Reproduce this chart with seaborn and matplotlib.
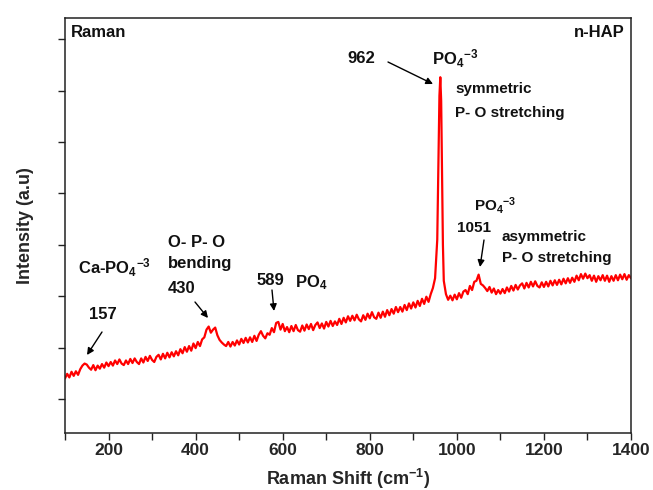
import numpy as np
import pandas as pd
import matplotlib
matplotlib.use("Agg")
import matplotlib.pyplot as plt
import seaborn as sns

# Raman shift (cm^-1) and measured intensity (counts) of the n-HAP sample
shift = [
    100, 105, 110, 115, 120, 125, 130, 135, 140, 145, 150, 155, 160, 165, 170, 175,
    180, 185, 190, 195, 200, 205, 210, 215, 220, 225, 230, 235, 240, 245, 250, 255,
    260, 265, 270, 275, 280, 285, 290, 295, 300, 305, 310, 315, 320, 325, 330, 335,
    340, 345, 350, 355, 360, 365, 370, 375, 380, 385, 390, 395, 400, 405, 410, 415,
    420, 425, 430, 435, 440, 445, 450, 455, 460, 465, 470, 475, 480, 485, 490, 495,
    500, 505, 510, 515, 520, 525, 530, 535, 540, 545, 550, 555, 560, 565, 570, 575,
    580, 585, 590, 595, 600, 605, 610, 615, 620, 625, 630, 635, 640, 645, 650, 655,
    660, 665, 670, 675, 680, 685, 690, 695, 700, 705, 710, 715, 720, 725, 730, 735,
    740, 745, 750, 755, 760, 765, 770, 775, 780, 785, 790, 795, 800, 805, 810, 815,
    820, 825, 830, 835, 840, 845, 850, 855, 860, 865, 870, 875, 880, 885, 890, 895,
    900, 905, 910, 915, 920, 925, 930, 935, 940, 945, 950, 955, 958, 960, 962, 964,
    966, 968, 970, 975, 980, 985, 990, 995, 1000, 1005, 1010, 1015, 1020, 1025, 1030,
    1035, 1040, 1045, 1050, 1055, 1060, 1065, 1070, 1075, 1080, 1085, 1090, 1095, 1100,
    1105, 1110, 1115, 1120, 1125, 1130, 1135, 1140, 1145, 1150, 1155, 1160, 1165, 1170,
    1175, 1180, 1185, 1190, 1195, 1200, 1205, 1210, 1215, 1220, 1225, 1230, 1235, 1240,
    1245, 1250, 1255, 1260, 1265, 1270, 1275, 1280, 1285, 1290, 1295, 1300, 1305, 1310,
    1315, 1320, 1325, 1330, 1335, 1340, 1345, 1350, 1355, 1360, 1365, 1370, 1375, 1380,
    1385, 1390, 1395, 1400,
]
intensity = [
    1400, 1490, 1420, 1530, 1450, 1540, 1470, 1580, 1650, 1690, 1670, 1610, 1570, 1660, 1560, 1650,
    1590, 1680, 1610, 1710, 1640, 1720, 1650, 1750, 1680, 1770, 1690, 1660, 1750, 1680, 1780, 1700,
    1790, 1720, 1680, 1790, 1710, 1820, 1740, 1840, 1760, 1720, 1820, 1860, 1770, 1880, 1790, 1900,
    1810, 1910, 1830, 1930, 1850, 1970, 1890, 2010, 1920, 2030, 1940, 2080, 1990, 2110, 2030, 2160,
    2200, 2350, 2410, 2290, 2350, 2390, 2240, 2150, 2100, 2060, 2030, 2110, 2020, 2110, 2040, 2140,
    2060, 2170, 2090, 2190, 2100, 2200, 2110, 2230, 2130, 2250, 2320, 2230, 2180, 2280, 2250, 2380,
    2300, 2480, 2500, 2350, 2460, 2320, 2400, 2300, 2420, 2320, 2440, 2340, 2310, 2430, 2330, 2450,
    2360, 2460, 2340, 2440, 2490, 2380, 2470, 2370, 2500, 2410, 2520, 2420, 2510, 2440, 2560, 2460,
    2580, 2490, 2610, 2520, 2620, 2530, 2640, 2550, 2510, 2630, 2540, 2660, 2570, 2690, 2590, 2560,
    2680, 2580, 2700, 2600, 2730, 2630, 2750, 2660, 2790, 2690, 2790, 2700, 2830, 2730, 2860, 2760,
    2880, 2780, 2910, 2810, 2950, 2850, 2990, 2890, 3040, 3160, 3350, 4100, 5800, 6900, 7260, 6800,
    5400, 4000, 3300, 3040, 2930, 3010, 2920, 3030, 2940, 3060, 2970, 3090, 3120, 3040, 3200,
    3120, 3280, 3300, 3420, 3240, 3210, 3160, 3100, 3180, 3070, 3150, 3040, 3120, 3050,
    3140, 3060, 3170, 3090, 3200, 3110, 3220, 3130, 3210, 3250, 3150, 3260, 3170, 3280,
    3190, 3290, 3200, 3170, 3270, 3180, 3280, 3190, 3300, 3210, 3310, 3220, 3320, 3230,
    3340, 3250, 3350, 3260, 3360, 3280, 3400, 3310, 3430, 3340, 3440, 3350, 3410, 3300,
    3400, 3280, 3390, 3310, 3410, 3300, 3400, 3280, 3390, 3300, 3410, 3310, 3420, 3330,
    3430, 3320, 3410, 3350,
]
x_ticks = [200, 400, 600, 800, 1000, 1200, 1400]
y_ticks = [1000, 2000, 3000, 4000, 5000, 6000, 7000, 8000]

df = pd.DataFrame({"shift": shift, "intensity": intensity})

sns.set_style("ticks")
plt.rcParams["font.family"] = ["Liberation Sans", "DejaVu Sans"]
plt.rcParams["mathtext.fontset"] = "custom"
plt.rcParams["mathtext.rm"] = "Liberation Sans:bold"
plt.rcParams["mathtext.it"] = "Liberation Sans:bold"
plt.rcParams["mathtext.bf"] = "Liberation Sans:bold"

fig = plt.figure(figsize=(6.53, 4.90), dpi=100)
ax = fig.add_axes([65 / 653, 1 - 433 / 490, 566 / 653, 415 / 490])

sns.lineplot(data=df, x="shift", y="intensity", ax=ax, color="#ff0000",
             linewidth=1.6, estimator=None, sort=False)

ax.set_xlim(100, 1400)
ax.set_ylim(339, 8412)
ax.set_xticks(x_ticks)
ax.set_xticks([100, 300, 500, 700, 900, 1100, 1300], minor=True)
ax.set_yticks(y_ticks)
ax.set_yticklabels([])
ax.tick_params(axis="both", which="both", direction="out", length=5, width=1,
               color="#222222", top=False, right=False, pad=2)
for lab in ax.get_xticklabels():
    lab.set_fontweight("bold")
    lab.set_fontsize(12.5)
for sp in ax.spines.values():
    sp.set_visible(True)
    sp.set_linewidth(1.1)
    sp.set_color("#222222")

ax.set_xlabel("Raman Shift (cm$^{-1}$)", fontsize=13, fontweight="bold")
ax.xaxis.set_label_coords(0.5, (433 - 467) / 415)
ax.set_ylabel("Intensity (a.u)", fontsize=13, fontweight="bold", labelpad=15)

big = dict(fontsize=12, fontweight="bold", color="#111111")
small = dict(fontsize=11, fontweight="bold", color="#111111")
akw = dict(arrowstyle="-|>", color="black", lw=1.0, mutation_scale=10, shrinkA=0, shrinkB=0)

def px(xp, yp):
    """Convert pixel position in the axes box into axes fraction."""
    return ((xp - 65) / 566, (433 - yp) / 415)

def label(xp, yp, s, style, ha="left"):
    ax.text(*px(xp, yp), s, transform=ax.transAxes, va="baseline", ha=ha, **style)

def arrow(x0, y0, x1, y1):
    ax.annotate("", xy=px(x1, y1), xytext=px(x0, y0), xycoords="axes fraction",
                textcoords="axes fraction", arrowprops=akw)

label(71, 37, "Raman", big)
label(625, 37, "n-HAP", big, ha="right")

# 962 symmetric stretching
label(347, 63, "962", big)
arrow(388, 62, 433, 84)
label(432, 65, r"PO$_4$$^{-3}$", big)
label(455, 93, "symmetric", small)
label(455, 117, "P- O stretching", small)

# 1051 asymmetric stretching
label(474, 211, r"PO$_4$$^{-3}$", small)
label(457, 232, "1051", small)
arrow(484, 240, 480, 267)
label(502, 241, "asymmetric", small)
label(502, 262, "P- O stretching", small)

# 157 Ca-PO4
label(78, 274, r"Ca-PO$_4$$^{-3}$", big)
label(89, 319, "157", big)
arrow(102, 332, 87, 355)

# 430 bending
label(168, 247, "O- P- O", big)
label(168, 268, "bending", big)
label(168, 293, "430", big)
arrow(195, 302, 208, 318)

# 589 PO4
label(257, 285, "589", big)
label(295, 287, r"PO$_4$", big)
arrow(272, 290, 274, 311)

fig.savefig("out.png", dpi=100)
